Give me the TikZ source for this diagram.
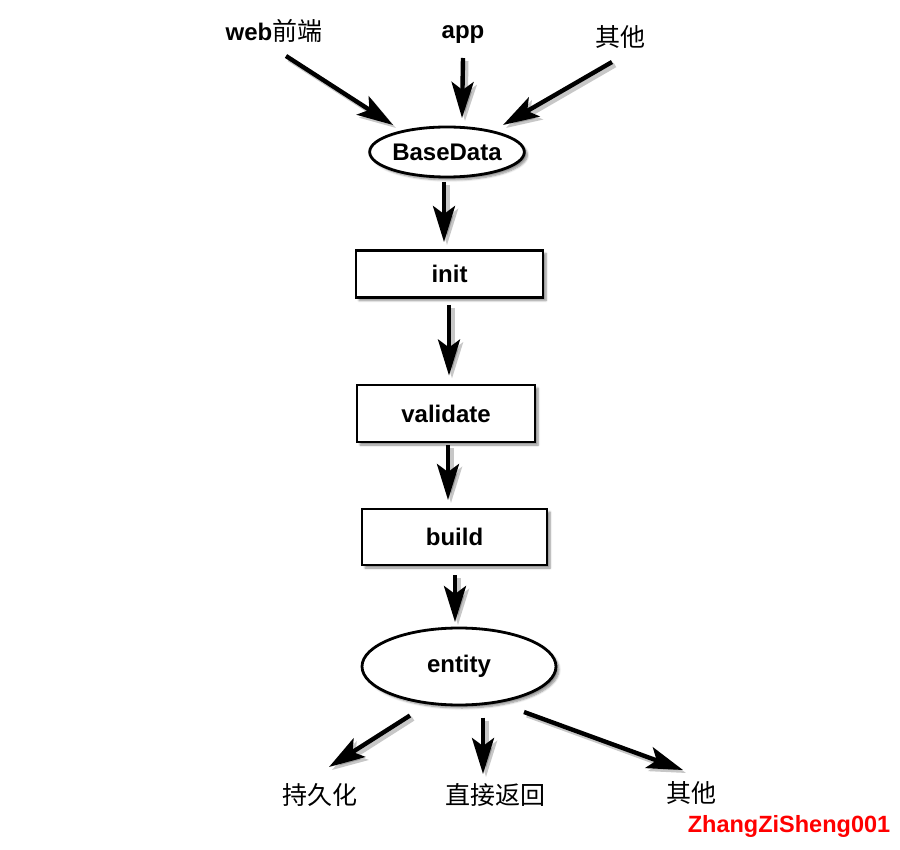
\documentclass[tikz,border=0pt]{standalone}
\usepackage{fontspec}
\setmainfont{Liberation Sans}
\newfontfamily\cjk{Noto Sans CJK SC}
\usetikzlibrary{arrows.meta,shapes.geometric,shadows.blur}
\newcommand\shadarrow[2]{%
  \draw[arrshadow] #1 -- #2;
  \draw[arr] #1 -- #2;}
\begin{document}
\begin{tikzpicture}[x=1pt,y=-1pt,
  shad/.style={blur shadow={shadow xshift=3pt,shadow yshift=-3pt,shadow blur steps=6,shadow opacity=45}},
  lat/.style={font=\fontsize{24}{28}\selectfont\bfseries, inner sep=2pt},
  zh/.style={font=\fontsize{25}{29}\selectfont\cjk, inner sep=2pt},
  ell/.style={ellipse, draw, line width=2.8pt, fill=white, inner sep=0pt, shad, font=\fontsize{24}{27}\selectfont\bfseries},
  box/.style={rectangle, draw, line width=2.8pt, fill=white, inner sep=0pt, shad, font=\fontsize{24}{27}\selectfont\bfseries},
  tip/.style={-{Stealth[length=36pt,width=22pt,inset=8pt]}},
  arr/.style={line width=4.4pt, tip},
  arrshadow/.style={line width=5pt, tip, draw=black, opacity=0.22, transform canvas={xshift=3pt,yshift=-3pt}}
]
\useasboundingbox (0,0) rectangle (900,850);

% top sources
\node[lat] (web) at (274,31) {web{\cjk\mdseries\fontsize{25}{28}\selectfont 前端}};
\node[lat] (app) at (463,35) {app};
\node[zh]  (oth1) at (620,37) {其他};

% main chain
\node[ell, minimum width=153pt, minimum height=50pt] (base) at (447,152) {BaseData};
\node[box, minimum width=187pt, minimum height=47pt] (init) at (449.5,274) {init};
\node[box, minimum width=178pt, minimum height=57pt] (val) at (446,413.5) {validate};
\node[box, minimum width=185pt, minimum height=56pt] (build) at (454.5,537) {build};
\node[ell, minimum width=194pt, minimum height=77pt] (ent) at (459,666.5) {entity};

% bottom targets
\node[zh] (p1) at (320,795) {持久化};
\node[zh] (p2) at (495,795) {直接返回};
\node[zh] (p3) at (691,793) {其他};

% watermark
\node[font=\fontsize{23.5}{27}\selectfont\bfseries, text=red, inner sep=0pt] (wm) at (789,826) {ZhangZiSheng001};

% arrows in
\shadarrow{([xshift=12pt,yshift=-25pt]web.center)}{([xshift=-54pt,yshift=27pt]base.center)}
\shadarrow{([yshift=-23pt]app.center)}{([xshift=15pt,yshift=34pt]base.center)}
\shadarrow{([xshift=-8pt,yshift=-25pt]oth1.center)}{([xshift=56pt,yshift=27pt]base.center)}

% chain arrows
\shadarrow{([xshift=-3pt,yshift=-30pt]base.center)}{([xshift=-5.5pt,yshift=32pt]init.center)}
\shadarrow{([xshift=-0.5pt,yshift=-31pt]init.center)}{([xshift=3pt,yshift=38pt]val.center)}
\shadarrow{([xshift=2pt,yshift=-31.5pt]val.center)}{([xshift=-6.5pt,yshift=37pt]build.center)}
\shadarrow{([xshift=0.5pt,yshift=-38pt]build.center)}{([xshift=-4pt,yshift=44.5pt]ent.center)}

% arrows out
\shadarrow{([xshift=-49pt,yshift=-49pt]ent.center)}{([xshift=9pt,yshift=28pt]p1.center)}
\shadarrow{([xshift=24pt,yshift=-51pt]ent.center)}{([xshift=-12pt,yshift=21pt]p2.center)}
\shadarrow{([xshift=65pt,yshift=-45.5pt]ent.center)}{([xshift=-8pt,yshift=23pt]p3.center)}
\end{tikzpicture}
\end{document}
